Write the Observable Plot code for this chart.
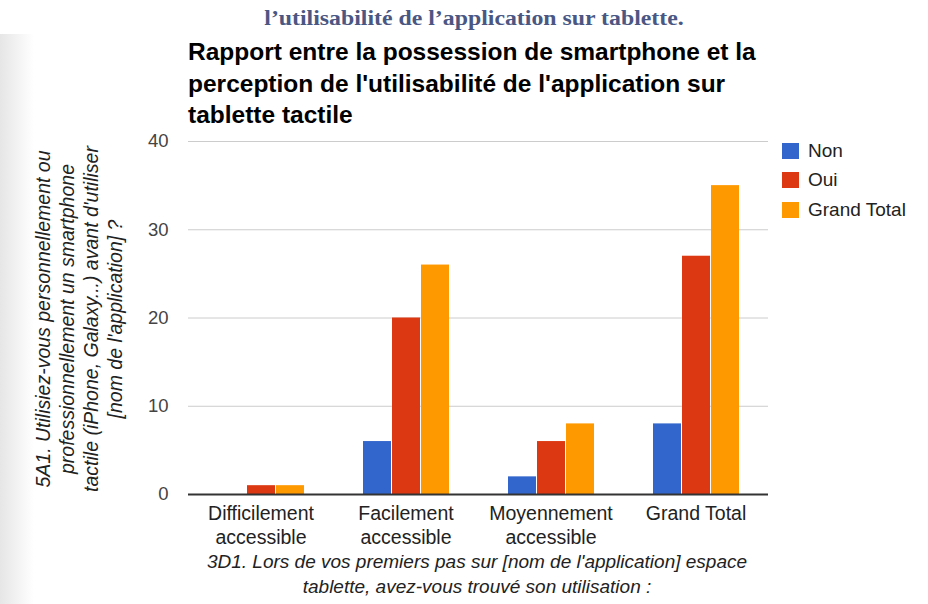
<!DOCTYPE html>
<html>
<head>
<meta charset="utf-8">
<script src="https://cdn.jsdelivr.net/npm/d3@7"></script>
<script src="https://cdn.jsdelivr.net/npm/@observablehq/plot@0.6"></script>
<style>
  html, body { margin: 0; padding: 0; background: #fff; }
  #wrap { position: relative; width: 928px; height: 604px; overflow: hidden; background: #fff; font-family: "Liberation Sans", Arial, sans-serif; }
  #shade { position: absolute; left: 0; top: 34px; width: 34px; height: 570px; background: linear-gradient(to right, #e6e6e6, #ffffff); }
  #chart { position: absolute; left: 0; top: 0; }
  #caption { position: absolute; left: 174px; width: 600px; top: 6px; text-align: center; font-family: "Liberation Serif", "Times New Roman", serif; font-weight: bold; font-size: 20px; line-height: 24px; color: #4b5783; transform: scaleX(1.19); transform-origin: 50% 50%; }
  #title { position: absolute; left: 188px; top: 36px; font-weight: bold; font-size: 24.5px; line-height: 31.5px; color: #000; }
  #ylabel { position: absolute; left: -121px; top: 271px; width: 400px; text-align: center; font-style: italic; font-size: 19.5px; line-height: 24px; color: #222; transform: rotate(-90deg); transform-origin: 50% 50%; }
  #xlabel { position: absolute; left: 177px; top: 549px; width: 600px; text-align: center; font-style: italic; font-size: 19px; line-height: 25px; color: #222; }
  #legend { position: absolute; left: 782px; top: 136px; font-size: 19px; color: #222; }
  .li { display: flex; align-items: center; height: 29.5px; }
  .sw { width: 17px; height: 16px; margin-right: 9px; box-sizing: border-box; }
</style>
</head>
<body>
<div id="wrap">
  <div id="shade"></div>
  <div id="chart"></div>
  <div id="caption"></div>
  <div id="title"></div>
  <div id="ylabel"></div>
  <div id="xlabel"></div>
  <div id="legend"></div>
</div>
<script>
const captionText = "l’utilisabilité de l’application sur tablette.";
const titleLines = [
  "Rapport entre la possession de smartphone et la",
  "perception de l'utilisabilité de l'application sur",
  "tablette tactile"
];
const yLabelLines = [
  "5A1. Utilisiez-vous personnellement ou",
  "professionnellement un smartphone",
  "tactile (iPhone, Galaxy...) avant d'utiliser",
  "[nom de l'application] ?"
];
const xLabelLines = [
  "3D1. Lors de vos premiers pas sur [nom de l'application] espace",
  "tablette, avez-vous trouvé son utilisation :"
];
const categories = ["Difficilement accessible", "Facilement accessible", "Moyennement accessible", "Grand Total"];
const categoryLabels = ["Difficilement\naccessible", "Facilement\naccessible", "Moyennement\naccessible", "Grand Total"];
const series = ["Non", "Oui", "Grand Total"];
const colors = ["#3366cc", "#dc3912", "#ff9900"];
const nonValues = [0, 6, 2, 8];
const ouiValues = [1, 20, 6, 27];
const totalValues = [1, 26, 8, 35];
const yTicks = [0, 10, 20, 30, 40];

const valuesBySeries = [nonValues, ouiValues, totalValues];
const rows = [];
categories.forEach((c, i) => {
  series.forEach((s, j) => rows.push({cat: c, series: s, value: valuesBySeries[j][i]}));
});
const labelOf = new Map(categories.map((c, i) => [c, categoryLabels[i]]));

const chart = Plot.plot({
  width: 928,
  height: 604,
  marginLeft: 188,
  marginRight: 160,
  marginTop: 141,
  marginBottom: 110,
  style: {fontFamily: "'Liberation Sans', Arial, sans-serif", fontSize: "18px", background: "transparent", color: "#444"},
  fx: {domain: categories, padding: 0, axis: null, label: null},
  x: {domain: series, paddingInner: 0.05, paddingOuter: 0.98, axis: null},
  y: {domain: [0, 40], axis: null},
  color: {domain: series, range: colors},
  marks: [
    Plot.gridY(yTicks.slice(1), {stroke: "#cccccc", strokeOpacity: 1}),
    Plot.axisY(yTicks, {anchor: "left", tickSize: 0, tickPadding: 20, label: null, fill: "#444", fontSize: 18.5}),
    Plot.barY(rows, {fx: "cat", x: "series", y: "value", fill: "series"}),
    Plot.ruleY([0], {stroke: "#333", strokeWidth: 2}),
    Plot.axisFx({anchor: "bottom", tickSize: 0, tickPadding: 8, label: null, tickFormat: d => labelOf.get(d), fill: "#222", fontSize: 19.5, lineHeight: 1.23})
  ]
});
document.getElementById("chart").appendChild(chart);

document.getElementById("caption").textContent = captionText;
document.getElementById("title").innerHTML = titleLines.map(t => `<div>${t}</div>`).join("");
document.getElementById("ylabel").innerHTML = yLabelLines.map(t => `<div>${t}</div>`).join("");
document.getElementById("xlabel").innerHTML = xLabelLines.map(t => `<div>${t}</div>`).join("");
document.getElementById("legend").innerHTML = series.map((s, i) =>
  `<div class="li"><div class="sw" style="background:${colors[i]}"></div><span>${s}</span></div>`).join("");
</script>
</body>
</html>
